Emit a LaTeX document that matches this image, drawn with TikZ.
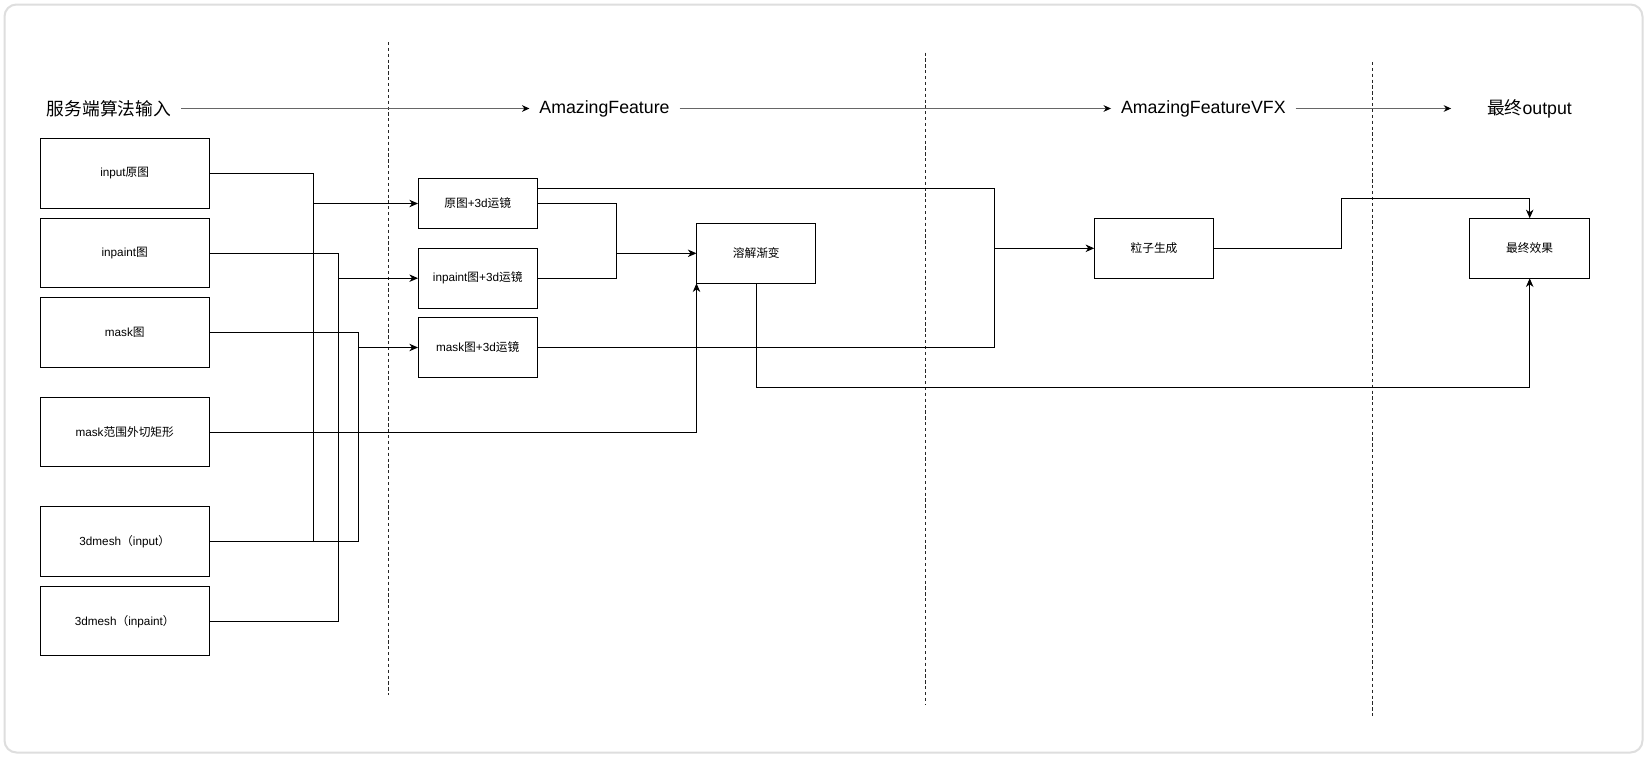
\documentclass[tikz,border=0pt]{standalone}
\usepackage{fontspec}
\setmainfont{Liberation Sans}
\newfontfamily\cjk{Noto Sans CJK SC}
\usetikzlibrary{arrows.meta}

\newcommand{\zh}[1]{{\cjk #1}}

\begin{document}
\begin{tikzpicture}[
  x=0.75pt, y=-0.75pt,
  line width=0.75pt,
  every node/.style={inner sep=0pt, outer sep=0pt},
  nodefont/.style={font=\fontsize{8.8pt}{10pt}\selectfont},
  srcbox/.style={draw, nodefont, minimum width=127.1pt, minimum height=52.1pt},
  camsmall/.style={draw, nodefont, minimum width=89.6pt, minimum height=37.2pt},
  cambox/.style={draw, nodefont, minimum width=89.6pt, minimum height=44.8pt},
  procbox/.style={draw, nodefont, minimum width=89.6pt, minimum height=45pt},
  stage/.style={font=\fontsize{13.3pt}{15pt}\selectfont, inner xsep=7.5pt, inner ysep=3pt},
  arr/.style={-{Stealth[length=6.5pt,width=5.6pt,inset=2pt]}},
  stagearr/.style={draw=black!60, -{Stealth[length=5.6pt,width=5pt,inset=1.8pt,color=black]}},
  separator/.style={draw=black!85, line width=0.75pt, dash pattern=on 2.4pt off 2pt},
]
\useasboundingbox (0,0) rectangle (1650,760);
\fill[white] (0,0) rectangle (1650,760);
\draw[draw=black!13, line width=1.5pt, rounded corners=9pt] (4.5,4.5) rectangle (1642.5,752.5);

% stage separators
\draw[separator] (388.4,42) -- (388.4,694.5);
\draw[separator] (925.4,52.6) -- (925.4,705);
\draw[separator] (1372.4,62) -- (1372.4,715.6);

% stage headers
\node[stage] (t1) at (109,108.5) {\zh{服务端算法输入}};
\node[stage] (t2) at (604.5,108.5) {AmazingFeature};
\node[stage] (t3) at (1203.3,108.5) {AmazingFeatureVFX};
\node[stage] (t4) at (1529.5,108.5) {\zh{最终}output};
\draw[stagearr] (t1) -- (t2);
\draw[stagearr] (t2) -- (t3);
\draw[stagearr, shorten >=19.5pt] (t3) -- (t4);

% algorithm inputs
\node[srcbox] (src) at (124.75,173.4) {input\zh{原图}};
\node[srcbox] (inp) at (124.75,253.2) {inpaint\zh{图}};
\node[srcbox] (msk) at (124.75,332.7) {mask\zh{图}};
\node[srcbox] (rect) at (124.75,432) {mask\zh{范围外切矩形}};
\node[srcbox] (mesha) at (124.75,541.4) {3dmesh\zh{（}input\zh{）}};
\node[srcbox] (meshb) at (124.75,621.2) {3dmesh\zh{（}inpaint\zh{）}};

% camera-move passes
\node[camsmall] (cam1) at (477.75,203.5) {\zh{原图}+3d\zh{运镜}};
\node[cambox] (cam2) at (477.75,278.2) {inpaint\zh{图}+3d\zh{运镜}};
\node[cambox] (cam3) at (477.75,347.5) {mask\zh{图}+3d\zh{运镜}};

% effects
\node[procbox] (diss) at (756.25,253.3) {\zh{溶解渐变}};
\node[procbox] (part) at (1154,248.3) {\zh{粒子生成}};
\node[procbox] (fin) at (1529.7,248.3) {\zh{最终效果}};

% bus junctions
\coordinate (busa) at (313.6,541.4);
\coordinate (busb) at (338,621.2);
\coordinate (busc) at (358.2,332.7);
\coordinate (jd) at (616.7,253.3);
\coordinate (jp) at (994.8,248.3);
\coordinate (jf) at (1341.6,198.3);
\coordinate (jb) at (0,387);

% inputs into camera passes
\draw (src.east) -| (busa) -- (mesha.east);
\draw[arr] (busa |- cam1.west) -- (cam1.west);
\draw (inp.east) -| (busb) -- (meshb.east);
\draw[arr] (busb |- cam2.west) -- (cam2.west);
\draw (msk.east) -- (busc) |- (mesha.east);
\draw[arr] (busc |- cam3.west) -- (cam3.west);

% dissolve
\draw (cam1.east) -| (jd) |- (cam2.east);
\draw[arr] (jd) -- (diss.west);
\draw[arr] (rect.east) -| (diss.south west);

% particles
\draw ([yshift=11.4pt]cam1.east) -| (jp) |- (cam3.east);
\draw[arr] (jp) -- (part.west);

% final result
\draw[arr] (part.east) -| (jf) -| (fin.north);
\draw[arr] (diss.south) -- (diss.south |- jb) -| (fin.south);
\end{tikzpicture}
\end{document}
